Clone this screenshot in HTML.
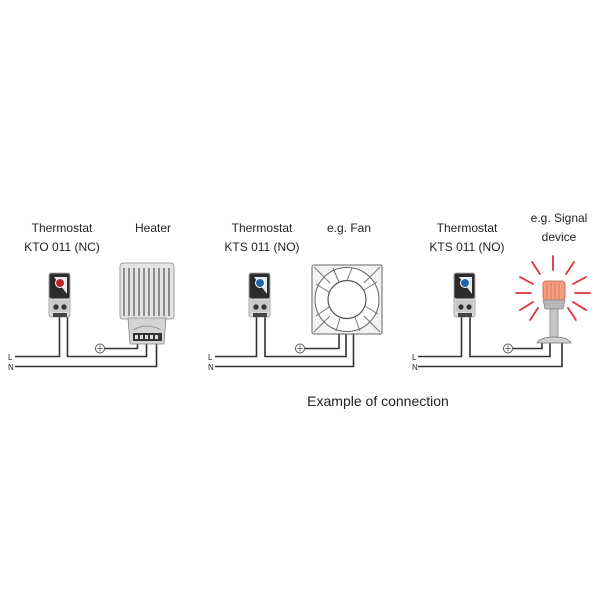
<!DOCTYPE html>
<html><head><meta charset="utf-8"><style>
html,body{margin:0;padding:0;background:#fff;width:600px;height:600px;overflow:hidden}
svg{display:block}
text{font-family:"Liberation Sans",sans-serif;fill:#222}
</style></head><body>
<svg width="600" height="600" viewBox="0 0 600 600" xmlns="http://www.w3.org/2000/svg">
<defs>
<g id="thermo">
  <rect x="0" y="0" width="21" height="44" rx="2" fill="#d8d8d8" stroke="#999" stroke-width="0.8"/>
  <rect x="0.5" y="0.5" width="20" height="25" rx="2" fill="#2c2c2e"/>
  <path d="M5,4 L18,4 L18,21 Z" fill="#e8e8e8"/>
  <rect x="2" y="27" width="17" height="12" fill="#c8c8c8"/>
  <circle cx="7" cy="34" r="2.6" fill="#333"/>
  <circle cx="15" cy="34" r="2.6" fill="#333"/>
  <rect x="4" y="40" width="14" height="4" fill="#444"/>
</g>
<g id="gnd">
  <circle cx="0" cy="0" r="4.5" fill="#fff" stroke="#555" stroke-width="1"/>
  <path d="M-3,0 H3 M0,-3 V3" stroke="#555" stroke-width="0.8"/>
</g>
</defs>

<!-- Labels -->
<text x="62" y="232" font-size="12" text-anchor="middle">Thermostat</text>
<text x="62" y="251" font-size="12" text-anchor="middle">KTO 011 (NC)</text>
<text x="153" y="232" font-size="12" text-anchor="middle">Heater</text>
<text x="262" y="232" font-size="12" text-anchor="middle">Thermostat</text>
<text x="262" y="251" font-size="12" text-anchor="middle">KTS 011 (NO)</text>
<text x="349" y="232" font-size="12" text-anchor="middle">e.g. Fan</text>
<text x="467" y="232" font-size="12" text-anchor="middle">Thermostat</text>
<text x="467" y="251" font-size="12" text-anchor="middle">KTS 011 (NO)</text>
<text x="559" y="222" font-size="12" text-anchor="middle">e.g. Signal</text>
<text x="559" y="241" font-size="12" text-anchor="middle">device</text>
<text x="378" y="406" font-size="14" text-anchor="middle">Example of connection</text>

<!-- L/N labels -->
<text x="8" y="360" font-size="8">L</text>
<text x="8" y="370" font-size="8">N</text>
<text x="208" y="360" font-size="8">L</text>
<text x="208" y="370" font-size="8">N</text>
<text x="412" y="360" font-size="8">L</text>
<text x="412" y="370" font-size="8">N</text>

<!-- Panel 1 -->
<g fill="none" stroke="#333" stroke-width="1.6">
  <path d="M15,356.5 H59.5 V316"/>
  <path d="M67.5,316 V356.5 H146.5 V340"/>
  <path d="M104,348.5 H137.5 V340"/>
  <path d="M15,366.5 H156.5 V340"/>
</g>
<use href="#thermo" x="49" y="273"/>
<circle cx="60" cy="283" r="4.5" fill="#c0202a" stroke="#fff" stroke-width="1"/>
<use href="#gnd" x="100" y="348.5"/>
<!-- heater -->
<rect x="120" y="263" width="54" height="56" rx="3" fill="#e4e4e4" stroke="#888" stroke-width="0.8"/>
<g stroke="#777" stroke-width="1.6">
  <line x1="124" y1="268" x2="124" y2="316"/><line x1="129" y1="268" x2="129" y2="316"/>
  <line x1="134" y1="268" x2="134" y2="316"/><line x1="139" y1="268" x2="139" y2="316"/>
  <line x1="144" y1="268" x2="144" y2="316"/><line x1="149" y1="268" x2="149" y2="316"/>
  <line x1="154" y1="268" x2="154" y2="316"/><line x1="159" y1="268" x2="159" y2="316"/>
  <line x1="164" y1="268" x2="164" y2="316"/><line x1="169" y1="268" x2="169" y2="316"/>
</g>
<path d="M128,318 H166 L164,344 H130 Z" fill="#d4d4d4" stroke="#888" stroke-width="0.8"/>
<path d="M133,330 Q147,322 161,330" fill="none" stroke="#999"/>
<rect x="133" y="333" width="29" height="8" fill="#333"/>
<g fill="#ddd"><rect x="135" y="335" width="3" height="4"/><rect x="140" y="335" width="3" height="4"/><rect x="145" y="335" width="3" height="4"/><rect x="150" y="335" width="3" height="4"/><rect x="155" y="335" width="3" height="4"/></g>

<!-- Panel 2 -->
<g fill="none" stroke="#333" stroke-width="1.6">
  <path d="M215,356.5 H256.5 V316"/>
  <path d="M265,316 V356.5 H346 V333"/>
  <path d="M305,348.5 H339 V333"/>
  <path d="M215,366.5 H353.5 V333"/>
</g>
<use href="#thermo" x="249" y="273"/>
<circle cx="260" cy="283" r="4.5" fill="#1f63a8" stroke="#fff" stroke-width="1"/>
<use href="#gnd" x="300" y="348.5"/>
<!-- fan -->
<rect x="312" y="265" width="70" height="69" rx="2" fill="#f3f3f3" stroke="#666" stroke-width="1"/>
<circle cx="347" cy="299.5" r="32" fill="#fff" stroke="#666" stroke-width="1"/>
<circle cx="347" cy="299.5" r="19" fill="#fff" stroke="#555" stroke-width="1.2"/>
<g stroke="#777" stroke-width="1" fill="none">
  <path d="M347,280.5 L352,268"/><path d="M364,290 L377,282"/><path d="M365,306 L378,314"/>
  <path d="M355,317 L360,331"/><path d="M340,318 L336,331"/><path d="M329,307 L316,316"/>
  <path d="M329,292 L316,284"/><path d="M339,282 L333,268"/>
  <path d="M314,267 L330,283 M380,267 L364,283 M314,332 L330,316 M380,332 L364,316"/>
</g>

<!-- Panel 3 -->
<g fill="none" stroke="#333" stroke-width="1.6">
  <path d="M418,356.5 H461.5 V316"/>
  <path d="M470,316 V356.5 H550 V343"/>
  <path d="M513,348.5 H542 V343"/>
  <path d="M418,366.5 H562 V343"/>
</g>
<use href="#thermo" x="454" y="273"/>
<circle cx="465" cy="283" r="4.5" fill="#1f63a8" stroke="#fff" stroke-width="1"/>
<use href="#gnd" x="508" y="348.5"/>
<!-- signal device -->
<g stroke="#e0303a" stroke-width="1.8" stroke-linecap="round">
  <line x1="553" y1="270" x2="553" y2="256"/>
  <line x1="566" y1="274" x2="574" y2="262"/>
  <line x1="540" y1="274" x2="532" y2="262"/>
  <line x1="573" y1="284" x2="586" y2="277"/>
  <line x1="533" y1="284" x2="520" y2="277"/>
  <line x1="575" y1="293" x2="590" y2="293"/>
  <line x1="531" y1="293" x2="516" y2="293"/>
  <line x1="573" y1="302" x2="586" y2="310"/>
  <line x1="533" y1="302" x2="520" y2="310"/>
  <line x1="568" y1="308" x2="576" y2="320"/>
  <line x1="538" y1="308" x2="530" y2="320"/>
</g>
<rect x="543" y="281" width="22" height="19" rx="3" fill="#f0a080" stroke="#c06040" stroke-width="0.8"/>
<g stroke="#e07050" stroke-width="0.8"><line x1="547" y1="283" x2="547" y2="299"/><line x1="551" y1="283" x2="551" y2="299"/><line x1="555" y1="283" x2="555" y2="299"/><line x1="559" y1="283" x2="559" y2="299"/></g>
<path d="M543,300 H565 L563,309 H545 Z" fill="#b8b8b8" stroke="#888" stroke-width="0.8"/>
<rect x="550" y="309" width="8" height="29" fill="#c8c8c8" stroke="#888" stroke-width="0.8"/>
<path d="M537,343 Q540,337 554,337 Q568,337 571,343 Z" fill="#d0d0d0" stroke="#777" stroke-width="0.8"/>
</svg>
</body></html>
